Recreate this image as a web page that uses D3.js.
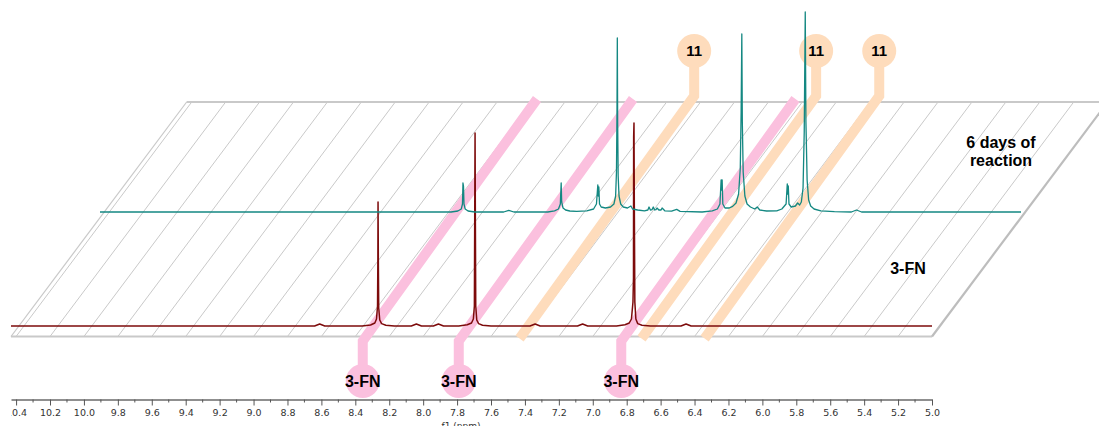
<!DOCTYPE html>
<html>
<head>
<meta charset="utf-8">
<script src="https://cdn.jsdelivr.net/npm/d3@7"></script>
<style>
  html, body { margin: 0; padding: 0; background: #fff; }
  svg { display: block; }
</style>
</head>
<body>
<svg id="chart" width="1099" height="426"></svg>
<script>
// ---- Data -------------------------------------------------------------
// Chemical shift axis (ppm), high field on the right
const ppmRange = [10.43, 5.0];
const majorTicks = [10.4, 10.2, 10.0, 9.8, 9.6, 9.4, 9.2, 9.0, 8.8, 8.6, 8.4, 8.2, 8.0,
                    7.8, 7.6, 7.4, 7.2, 7.0, 6.8, 6.6, 6.4, 6.2, 6.0, 5.8, 5.6, 5.4, 5.2, 5.0];
const minorTicks = [10.3, 10.1, 9.9, 9.7, 9.5, 9.3, 9.1, 8.9, 8.7, 8.5, 8.3, 8.1, 7.9,
                    7.7, 7.5, 7.3, 7.1, 6.9, 6.7, 6.5, 6.3, 6.1, 5.9, 5.7, 5.5, 5.3, 5.1];

// 1H spectrum of 3-FN: [ppm, intensity]
const spectrum3FN = [
  [10.43, 0], [8.64, 0], [8.61, 1], [8.58, 0],
  [8.36, 0], [8.31, 0.5], [8.285, 1.5], [8.275, 3.5], [8.269, 10], [8.267, 34], [8.266, 62],
  [8.264, 30], [8.262, 9], [8.256, 3], [8.245, 1.2], [8.22, 0.4], [8.17, 0],
  [8.07, 0], [8.04, 1], [8.01, 0],
  [7.94, 0], [7.91, 1], [7.88, 0],
  [7.79, 0], [7.74, 0.6], [7.715, 1.5], [7.704, 3.5], [7.698, 10], [7.696, 54.5], [7.694, 96.5],
  [7.692, 50], [7.690, 10], [7.684, 3], [7.673, 1.2], [7.65, 0.4], [7.60, 0],
  [7.37, 0], [7.34, 1], [7.31, 0],
  [7.09, 0], [7.06, 1], [7.03, 0],
  [6.86, 0], [6.81, 0.6], [6.785, 1.5], [6.772, 3.5], [6.763, 12], [6.760, 24], [6.759, 94.5],
  [6.757, 101.5], [6.755, 60], [6.752, 12], [6.746, 3.5], [6.735, 1.2], [6.71, 0.4], [6.66, 0],
  [6.48, 0], [6.45, 1], [6.42, 0],
  [5.0, 0]
];

// 1H spectrum after 6 days of reaction: [ppm, intensity]
const spectrum6Days = [
  [10.43, 0],
  [8.36, 0], [8.32, 0.5], [8.30, 1.5], [8.293, 4], [8.290, 14.5], [8.287, 13], [8.284, 4],
  [8.277, 1.5], [8.26, 0.5], [8.22, 0],
  [8.05, 0], [8.02, 0.8], [7.99, 0],
  [7.79, 0], [7.75, 0.6], [7.727, 1.5], [7.716, 4], [7.714, 8.5], [7.711, 14.5], [7.708, 5],
  [7.70, 2], [7.685, 1], [7.66, 0.5], [7.62, 0.3],
  [7.56, 0.6], [7.52, 1.5], [7.503, 4], [7.495, 13.5], [7.492, 8], [7.489, 12.5], [7.485, 4],
  [7.475, 2.5], [7.45, 2], [7.42, 2.5], [7.40, 4], [7.39, 8], [7.385, 20], [7.382, 50],
  [7.380, 87], [7.378, 45], [7.375, 18], [7.37, 8], [7.36, 4], [7.345, 2.5], [7.32, 2],
  [7.30, 3], [7.29, 1.5], [7.26, 1], [7.22, 0.6],
  [7.20, 1], [7.193, 2.5], [7.185, 1], [7.175, 1.2], [7.168, 2.5], [7.16, 1], [7.152, 1.2],
  [7.146, 2], [7.135, 1], [7.122, 1], [7.116, 2], [7.10, 0.6], [7.06, 0.4], [7.03, 1.3], [7.01, 0.3],
  [6.88, 0], [6.82, 0.6], [6.79, 1.5], [6.775, 4], [6.768, 16], [6.765, 11], [6.762, 16],
  [6.758, 4], [6.745, 2], [6.72, 2], [6.70, 2.8], [6.68, 4.5], [6.665, 9], [6.655, 22],
  [6.650, 50], [6.646, 89], [6.643, 45], [6.638, 20], [6.628, 8], [6.615, 4], [6.595, 2.5],
  [6.57, 1.5], [6.555, 2.5], [6.54, 1], [6.50, 0.5],
  [6.44, 0.6], [6.41, 1.5], [6.385, 4], [6.378, 14], [6.375, 9], [6.372, 13], [6.368, 4],
  [6.355, 2.5], [6.33, 3], [6.317, 4.5], [6.305, 3.5], [6.295, 5], [6.285, 12], [6.278, 40],
  [6.272, 100], [6.268, 45], [6.261, 16], [6.252, 6], [6.24, 3], [6.22, 1.5], [6.18, 0.6], [6.10, 0.2],
  [6.00, 0], [5.97, 1], [5.94, 0],
  [5.0, 0]
];

// Signals marked in the figure (ppm)
const marks3FN = [8.337, 7.771, 6.813];
const marks11 = [7.423, 6.704, 6.332];
const mark3FNLabel = "3-FN";
const mark11Label = "11";

// ---- Layout -----------------------------------------------------------
const W = 1099, H = 426;
const yFront = 336.5, yBack = 102;        // floor of the stacked plot
const planeShear = 0.749;                 // horizontal shift per px of depth (grid)
const bandLean = 0.72;                    // lean of the marker bands
const axisY = 399.5;
const fontBold = "'Liberation Sans', Arial, Helvetica, sans-serif";
const fontAxis = "'DejaVu Sans', Verdana, sans-serif";

const stackRows = [
  { data: spectrum3FN,   dx: 0,  base: 326, color: "#7d0b0b", width: 1.5 },
  { data: spectrum6Days, dx: 89, base: 212, color: "#148882", width: 1.3 }
];

const svg = d3.select("#chart");

const x = d3.scaleLinear().domain(ppmRange).range([11, 932]);
const yI = d3.scaleLinear().domain([0, 100]).range([0, -200]);

// ---- Floor plane with slanted grid ----------------------------------
const depth = yFront - yBack;
const dxPlane = depth * planeShear;
const floor = svg.append("g").attr("class", "floor");

floor.selectAll("line.grid")
  .data(majorTicks.filter(d => d !== 5.0))
  .join("line")
  .attr("class", "grid")
  .attr("x1", d => x(d)).attr("y1", yFront)
  .attr("x2", d => x(d) + dxPlane).attr("y2", yBack)
  .attr("stroke", "#c9c9c9").attr("stroke-width", 1);

const edges = [
  { x1: x(ppmRange[0]), y1: yFront, x2: x(ppmRange[1]), y2: yFront, w: 1.8 },
  { x1: x(ppmRange[0]) + dxPlane, y1: yBack, x2: x(ppmRange[1]) + dxPlane, y2: yBack, w: 1.8 },
  { x1: x(ppmRange[0]), y1: yFront, x2: x(ppmRange[0]) + dxPlane, y2: yBack, w: 1.2 },
  { x1: x(ppmRange[1]), y1: yFront, x2: x(ppmRange[1]) + dxPlane, y2: yBack, w: 2.2 }
];
floor.selectAll("line.edge")
  .data(edges)
  .join("line")
  .attr("class", "edge")
  .attr("x1", d => d.x1).attr("y1", d => d.y1)
  .attr("x2", d => d.x2).attr("y2", d => d.y2)
  .attr("stroke", (d, i) => i === 3 ? "#bdbdbd" : "#c9c9c9")
  .attr("stroke-width", d => d.w);

// ---- Marker bands ----------------------------------------------------
const pink = "#fbc0de", peach = "#fedcbc";
const bandW = 10, bubbleR = 17;
const pinkBend = 341, pinkTop = 99, pinkCy = 381;
const peachBend = 96, peachEnd = 338.5, peachCy = 51;

const bands = svg.append("g").attr("class", "bands");

function pinkPath(p) {
  const xf = x(p);
  const sx = xf - (pinkBend - yFront) * bandLean;
  return [[sx, pinkCy], [sx, pinkBend], [xf + (yFront - pinkTop) * bandLean, pinkTop]];
}
function peachPath(p) {
  const xf = x(p);
  const sx = xf + (yFront - peachBend) * bandLean;
  return [[sx, peachCy], [sx, peachBend], [xf - (peachEnd - yFront) * bandLean, peachEnd]];
}

const line2 = d3.line();
bands.selectAll("path.peach")
  .data(marks11)
  .join("path")
  .attr("class", "peach")
  .attr("d", d => line2(peachPath(d)))
  .attr("fill", "none").attr("stroke", peach).attr("stroke-width", bandW)
  .attr("stroke-linejoin", "miter").attr("stroke-linecap", "butt");
bands.selectAll("circle.peach")
  .data(marks11)
  .join("circle")
  .attr("class", "peach")
  .attr("cx", d => peachPath(d)[0][0]).attr("cy", peachCy).attr("r", bubbleR)
  .attr("fill", peach);

bands.selectAll("path.pink")
  .data(marks3FN)
  .join("path")
  .attr("class", "pink")
  .attr("d", d => line2(pinkPath(d)))
  .attr("fill", "none").attr("stroke", pink).attr("stroke-width", bandW)
  .attr("stroke-linejoin", "miter").attr("stroke-linecap", "butt");
bands.selectAll("circle.pink")
  .data(marks3FN)
  .join("circle")
  .attr("class", "pink")
  .attr("cx", d => pinkPath(d)[0][0]).attr("cy", pinkCy).attr("r", bubbleR)
  .attr("fill", pink);

// ---- Spectra -----------------------------------------------------------
const specLine = d3.line().x(d => x(d[0])).y(d => yI(d[1]));
const spectra = svg.append("g").attr("class", "spectra");
spectra.selectAll("path.spectrum")
  .data(stackRows)
  .join("path")
  .attr("class", "spectrum")
  .attr("transform", d => `translate(${d.dx},${d.base})`)
  .attr("d", d => specLine(d.data))
  .attr("fill", "none")
  .attr("stroke", d => d.color)
  .attr("stroke-width", d => d.width)
  .attr("stroke-linejoin", "round");

// ---- Axis ----------------------------------------------------------------
// the outer group carries the clip (page coordinates), the inner one the offset
svg.append("defs").append("clipPath").attr("id", "axisClip")
  .append("rect").attr("x", 11).attr("y", 380).attr("width", W).attr("height", 60);

const axisG = svg.append("g")
  .attr("clip-path", "url(#axisClip)")
  .append("g")
  .attr("transform", `translate(0,${axisY})`);

axisG.call(d3.axisBottom(x)
  .tickValues(majorTicks)
  .tickFormat(d3.format(".1f"))
  .tickSize(6)
  .tickSizeOuter(0)
  .tickPadding(4));
axisG.select(".domain").attr("stroke", "#6a6a6a").attr("stroke-width", 1.5);
axisG.selectAll(".tick line").attr("stroke", "#555").attr("stroke-width", 1);
axisG.selectAll(".tick text")
  .attr("fill", "#333")
  .style("font-family", fontAxis)
  .style("font-size", "9.5px");

axisG.selectAll("line.minor")
  .data(minorTicks)
  .join("line")
  .attr("class", "minor")
  .attr("x1", d => x(d)).attr("x2", d => x(d))
  .attr("y1", 0).attr("y2", 3)
  .attr("stroke", "#555").attr("stroke-width", 1);

svg.append("text")
  .attr("x", 461).attr("y", 428.5)
  .attr("text-anchor", "middle")
  .attr("fill", "#333")
  .style("font-family", fontAxis)
  .style("font-size", "9px")
  .text("f1 (ppm)");

// ---- Labels ---------------------------------------------------------------
const labels = svg.append("g").attr("class", "labels")
  .style("font-family", fontBold).style("font-weight", "bold").attr("fill", "#000");

labels.selectAll("text.m11")
  .data(marks11)
  .join("text")
  .attr("class", "m11")
  .attr("x", d => peachPath(d)[0][0]).attr("y", peachCy + 5)
  .attr("text-anchor", "middle")
  .style("font-size", "15px")
  .text(mark11Label);

labels.selectAll("text.m3fn")
  .data(marks3FN)
  .join("text")
  .attr("class", "m3fn")
  .attr("x", d => pinkPath(d)[0][0]).attr("y", pinkCy + 6)
  .attr("text-anchor", "middle")
  .style("font-size", "16px")
  .text(mark3FNLabel);

const rowLabels = [
  { lines: ["6 days of", "reaction"], x: 1001, y: 148 },
  { lines: ["3-FN"], x: 908, y: 274 }
];
rowLabels.forEach(r => {
  const t = labels.append("text")
    .attr("x", r.x).attr("y", r.y)
    .attr("text-anchor", "middle")
    .style("font-size", "16px");
  r.lines.forEach((s, i) => {
    t.append("tspan").attr("x", r.x).attr("dy", i === 0 ? 0 : 18).text(s);
  });
});
</script>
</body>
</html>
